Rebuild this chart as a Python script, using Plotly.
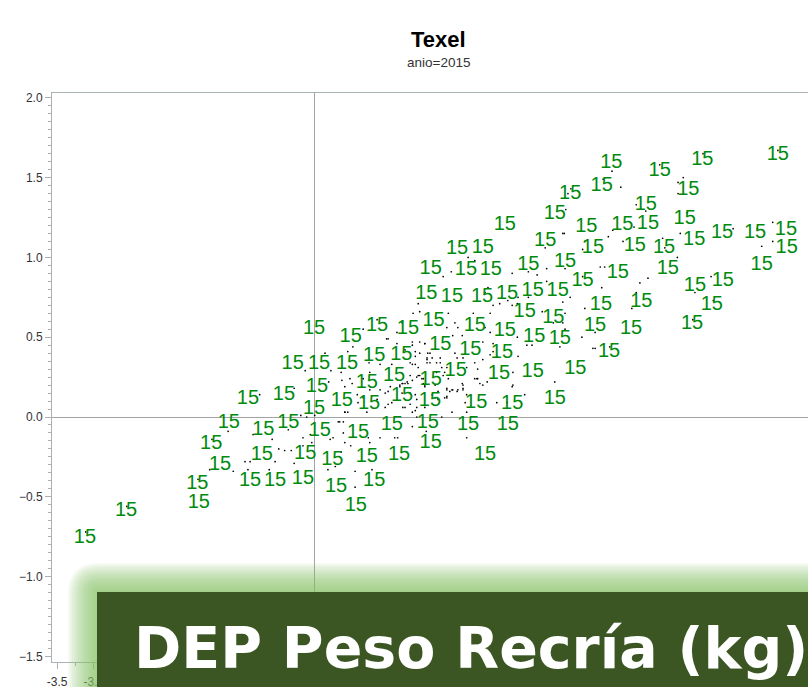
import plotly.graph_objects as go

# Labelled animals ("15" = birth year) : EBV values
label_x = [4.05,4.71,5.29,6.32,3.49,3.92,5.10,4.52,3.28,2.60,3.71,4.20,4.55,5.05,5.56,6.01,6.43,5.18,3.15,3.80,4.37,4.77,1.95,2.30,6.44,
 3.42,2.92,1.59,2.07,2.41,6.10,4.82,4.14,3.66,5.57,5.19,1.53,1.88,2.29,2.63,2.98,3.32,4.46,3.91,5.42,2.87,3.26,1.63,1.28,0.86,0.50,0.00,2.19,2.60,3.83,4.32,5.15,
 3.00,3.35,1.72,2.13,2.56,4.02,1.19,0.82,0.45,0.07,-0.29,3.56,2.98,2.52,1.93,1.09,1.59,0.72,0.04,-0.41,-0.90,1.20,0.38,0.75,1.58,2.21,2.70,3.28,0.00,
 -1.16,-0.69,-0.35,0.08,0.60,1.06,1.55,2.10,2.64,-1.40,1.59,-0.71,-0.12,0.25,0.72,1.16,2.33,-1.28,-0.87,-0.53,-0.15,0.30,0.82,-1.59,-1.57,0.57,-2.56,-3.12]
label_y = [1.59,1.54,1.61,1.64,1.40,1.45,1.42,1.33,1.27,1.20,1.19,1.20,1.21,1.24,1.15,1.15,1.17,1.11,1.10,1.06,1.07,1.06,1.05,1.06,1.06,
 0.97,0.95,0.93,0.92,0.92,0.95,0.93,0.90,0.85,0.85,0.82,0.77,0.75,0.75,0.77,0.79,0.79,0.72,0.70,0.70,0.66,0.62,0.60,0.55,0.57,0.50,0.55,0.57,0.54,0.57,0.55,0.58,
 0.50,0.49,0.45,0.42,0.40,0.41,0.39,0.38,0.33,0.33,0.33,0.30,0.28,0.27,0.29,0.26,0.23,0.21,0.19,0.14,0.11,0.13,0.10,0.08,0.10,0.09,0.08,0.11,0.05,
 -0.04,-0.08,-0.04,-0.09,-0.10,-0.05,-0.04,-0.05,-0.05,-0.17,-0.16,-0.24,-0.23,-0.27,-0.25,-0.24,-0.24,-0.30,-0.40,-0.40,-0.39,-0.44,-0.40,-0.42,-0.54,-0.56,-0.59,-0.76]
label_text = "15"

# Small unlabelled points
dot_x = [1.42,1.44,1.83,2.17,2.40,2.64,2.77,0.86,1.20,1.92,1.13,1.01,0.53,1.34,1.44,1.54,1.58,1.44,1.21,1.27,1.51,1.81,1.92,1.95,2.23,1.88,1.95,2.03,0.76,0.49,0.42,0.60,1.31,1.21,1.38,1.69,1.81,2.08,2.30,2.44,2.49,2.71,2.63,2.08,1.06,0.97,0.74,0.40,0.35,
 -0.74,-0.27,-0.18,-0.10,0.01,-0.83,-0.57,-1.17,-0.35,-0.05,-0.15,-0.03,-0.15,-0.48,-0.40,-0.31,-0.94,-0.87,-0.53,-1.10,-0.90,-0.61,-0.27,0.19,0.29,0.37,0.50,0.42,0.26,0.22,0.33,0.40,0.76,0.90,1.10,1.14,0.56,0.56,0.79,0.42,0.46,0.72,1.01,1.34,1.40,1.20,0.97,1.04,0.59,0.67,0.86,
 0.67,0.99,0.15,-0.12,0.23,0.37,0.46,0.75,0.90,1.06,0.38,0.52,0.67,0.42,0.20,0.76,0.90,1.01,
 3.39,3.15,2.10,2.19,1.76,1.87,2.70,2.92,3.17,3.04,3.17,2.37,2.33,3.49,2.78,2.44,2.53,2.92,2.70,1.35,3.11,3.42,3.69,1.96,2.40,2.33,2.77,3.65,2.44,1.51,1.81,2.97,
 2.30,2.40,2.78,2.90,3.83,2.19,2.30,2.23,1.31,1.38,1.54,1.58,1.42,1.49,1.24,1.74,1.76,2.19,2.26,2.36,2.71,3.28,2.02,1.81,2.03,1.81,2.06,1.88,2.08,1.74,2.49,2.87,2.70,1.24,1.40,1.51,1.34,1.53,
 1.31,1.34,1.17,1.65,1.67,1.38,1.24,1.72,1.61,1.69,
 4.06,4.18,4.71,5.30,6.32,5.03,4.96,4.96,3.50,3.46,3.94,4.39,4.52,5.08,3.43,3.41,4.01,4.07,4.36,4.21,3.69,3.66,4.99,4.75,4.78,4.95,5.71,6.04,6.25,6.25,6.10,3.42,3.90,3.96,3.92,4.55,4.44,5.41,5.19,5.44,5.16,3.39,4.39,4.33,3.83,3.80,4.03,3.35,3.42,3.39,3.26,3.66,
 -1.39,-1.42,-1.58,-2.55,-3.11]
dot_y = [0.71,0.66,0.65,0.65,0.65,0.73,0.71,0.61,0.59,0.59,0.53,0.49,0.44,0.47,0.47,0.37,0.34,0.26,0.21,0.22,0.20,0.31,0.40,0.37,0.24,0.17,0.16,0.20,0.28,0.24,0.03,0.09,0.08,0.06,0.04,0.11,0.12,0.14,0.20,0.41,0.38,0.20,0.09,-0.13,0.09,0.06,-0.13,-0.10,-0.03,
 0.14,0.18,0.01,0.00,0.01,-0.11,-0.14,-0.09,-0.08,-0.11,-0.13,-0.16,-0.18,-0.20,-0.21,-0.21,-0.28,-0.28,-0.28,-0.34,-0.33,-0.33,-0.29,-0.33,-0.31,-0.22,-0.18,-0.16,-0.13,-0.14,-0.03,-0.03,-0.16,-0.13,-0.13,-0.13,-0.34,-0.44,-0.33,0.03,0.03,0.03,0.08,0.03,0.00,0.15,0.15,0.19,0.14,0.12,0.11,
 0.55,0.49,0.40,0.29,0.29,0.28,0.41,0.34,0.33,0.33,0.23,0.21,0.24,0.19,0.22,0.17,0.17,0.16,
 1.15,1.06,1.00,0.98,0.88,0.91,0.90,0.91,0.93,0.89,0.85,0.81,0.78,0.75,0.75,0.70,0.71,0.75,0.70,0.65,0.66,0.65,0.68,0.56,0.53,0.56,0.50,0.50,0.46,0.46,0.56,0.45,
 0.47,0.39,0.38,0.45,0.43,0.34,0.36,0.30,0.34,0.33,0.34,0.40,0.26,0.24,0.21,0.31,0.26,0.24,0.21,0.22,0.28,0.22,0.21,0.17,0.17,0.13,0.09,0.03,0.03,0.00,0.09,0.14,0.19,0.06,0.06,0.06,-0.06,-0.09,
 0.26,0.23,0.20,0.20,0.28,0.41,0.42,0.37,0.14,0.16,
 1.54,1.44,1.58,1.65,1.67,1.50,1.47,1.40,1.43,1.40,1.49,1.33,1.29,1.28,1.30,1.15,1.13,1.17,1.19,1.10,1.10,1.05,1.15,1.12,1.06,1.00,1.18,1.18,1.22,1.10,1.07,0.93,0.94,0.94,0.81,0.87,0.84,0.88,0.78,0.73,0.61,0.72,0.78,0.68,0.53,0.43,0.44,0.44,0.55,0.59,0.59,0.88,
 -0.14,-0.33,-0.39,-0.56,-0.72]
# Dense core of the cloud
core_x = [1.13,1.51,1.89,2.02,1.44,1.55,1.61,1.54,1.42,1.34,1.72,1.67,1.40,1.47,1.49,1.51,1.20,1.28,1.17,1.78,1.83,1.81,1.85,1.89,1.96,1.78,2.03,2.22,2.03,2.08,1.31,1.38,1.40,1.65,1.34,1.38]
core_y = [0.46,0.46,0.51,0.51,0.40,0.40,0.37,0.36,0.31,0.33,0.34,0.34,0.25,0.24,0.21,0.19,0.21,0.21,0.19,0.28,0.24,0.18,0.16,0.17,0.17,0.12,0.18,0.24,0.37,0.31,0.15,0.14,0.11,0.12,0.45,0.38]

x_tick_vals = [-3.5, -3.0]
x_tick_text = ["-3.5", "-3.0"]
x_minor_vals = [-3.25, -2.75]

title_main = "Texel"
title_sub = "anio=2015"
banner_text = "DEP Peso Recría (kg)"

W, H = 808, 687
L, T, B = 52, 93, 25
PW, PH = W - L, H - T - B
def px(v): return (v - L) / PW
def py(v): return (H - B - v) / PH

def rounded(x0, y0, r):
    xa, xb = px(x0), px(W + 60)
    ya, yb = py(y0), py(H + 60)
    return (f"M {xa} {yb} L {xa} {py(y0 + r)} Q {xa} {ya} {px(x0 + r)} {ya} L {xb} {ya} L {xb} {yb} Z")

shapes = []
for d in range(29, 0, -2):
    shapes.append(dict(type="path", xref="paper", yref="paper", layer="above", path=rounded(97 - d, 592 - d, d + 2),
                       fillcolor="#8fc46b", opacity=0.085, line=dict(width=0)))
shapes.append(dict(type="rect", xref="paper", yref="paper", layer="above", x0=px(97), x1=px(W + 60), y0=py(H + 60), y1=py(592),
                   fillcolor="#3b5623", line=dict(width=0)))

fig = go.Figure()
fig.add_trace(go.Scatter(x=dot_x + core_x, y=dot_y + core_y, mode="markers",
                         marker=dict(size=1.7, color="#000000", line=dict(width=0)), hoverinfo="skip"))
fig.add_trace(go.Scatter(x=label_x, y=label_y, mode="text", text=[label_text] * len(label_x),
                         textposition="middle center",
                         textfont=dict(family="Liberation Sans", size=20, color="#008a0e")))

axis_col = "#aab2b6"
tick_font = dict(family="Liberation Sans", size=12, color="#333333")
fig.update_layout(
    width=W, height=H, margin=dict(l=L, r=0, t=T, b=B, autoexpand=False), showlegend=False,
    paper_bgcolor="white", plot_bgcolor="white", shapes=shapes,
    xaxis=dict(range=[(L - 314) / 73.4, (W - 314) / 73.4], tickmode="array", tickvals=x_tick_vals, ticktext=x_tick_text,
               automargin=False,
               ticks="outside", ticklen=6, tickcolor=axis_col, tickfont=tick_font, ticklabelstandoff=3,
               minor=dict(tickmode="array", tickvals=x_minor_vals, ticks="outside", ticklen=3, tickcolor=axis_col, showgrid=False),
               showgrid=False, zeroline=True, zerolinecolor="#a3a3a3", zerolinewidth=1,
               showline=True, linecolor=axis_col, linewidth=1, mirror=True),
    yaxis=dict(range=[(417 - (H - B)) / 159.6, (417 - T) / 159.6], tick0=-1.5, dtick=0.5, tickformat=".1f",
               automargin=False,
               ticks="outside", ticklen=6, tickcolor=axis_col, tickfont=tick_font,
               minor=dict(dtick=0.05, tick0=-1.5, ticks="outside", ticklen=3, tickcolor=axis_col, showgrid=False),
               showgrid=False, zeroline=True, zerolinecolor="#a3a3a3", zerolinewidth=1,
               showline=True, linecolor=axis_col, linewidth=1, mirror=False),
    annotations=[
        dict(text=f"<b>{title_main}</b>", xref="paper", yref="paper", x=px(438), y=py(40), showarrow=False,
             xanchor="center", yanchor="middle", font=dict(family="Liberation Sans", size=22, color="#000000")),
        dict(text=title_sub, xref="paper", yref="paper", x=px(438), y=py(62), showarrow=False,
             xanchor="center", yanchor="middle", font=dict(family="Liberation Sans", size=13.5, color="#333333")),
        dict(text=f"<b>{banner_text}</b>", xref="paper", yref="paper", x=px(132), y=py(648), showarrow=False,
             xanchor="left", yanchor="middle", font=dict(family="DejaVu Sans", size=57, color="#ffffff")),
    ],
)
fig.write_html("out.html", config={"displayModeBar": False},
               post_script="document.body.style.margin='0';document.body.style.overflow='hidden';")
